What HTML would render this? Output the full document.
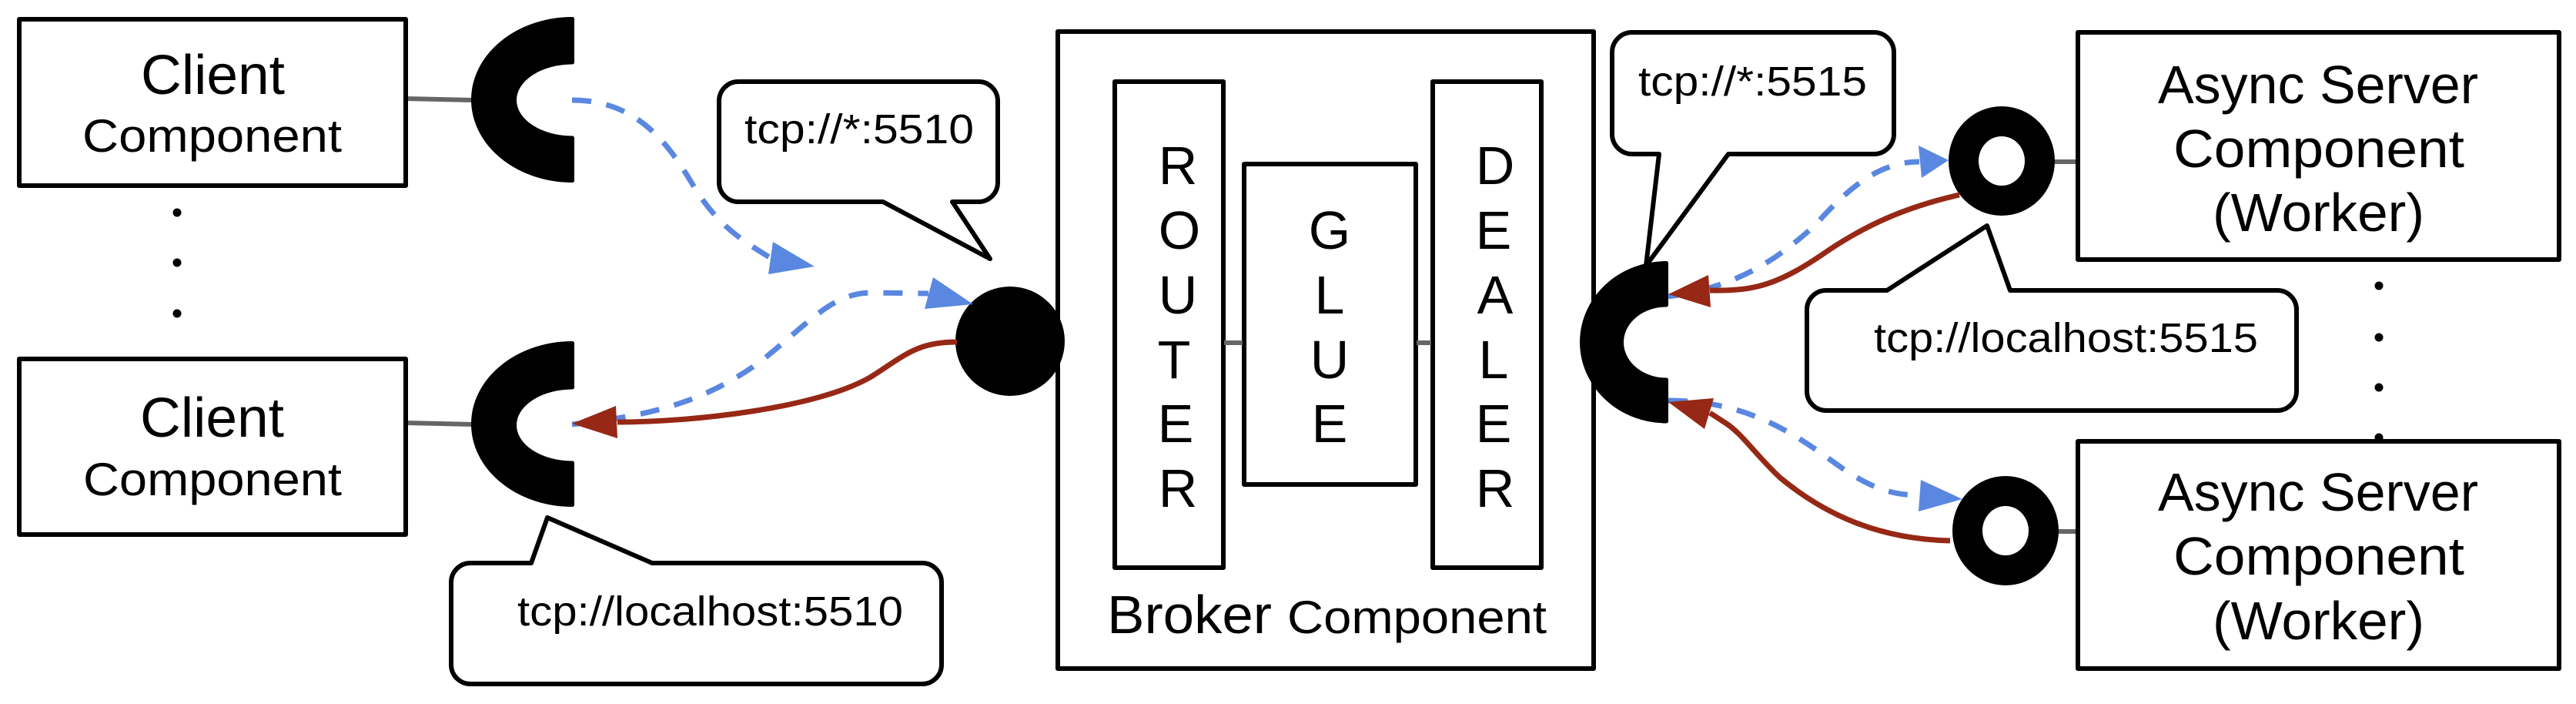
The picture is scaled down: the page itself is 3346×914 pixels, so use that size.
<!DOCTYPE html>
<html>
<head>
<meta charset="utf-8">
<style>
html,body{margin:0;padding:0;background:#fff}
svg{display:block}
text{font-family:"Liberation Sans",sans-serif;fill:#000}
.b{fill:#fff;stroke:#000;stroke-width:6;stroke-linejoin:round}
.g{stroke:#666;stroke-width:6;fill:none}
.bl{stroke:#5a87e0;stroke-width:7;fill:none;stroke-dasharray:25 20}
.r{stroke:#962815;stroke-width:7;fill:none}
.s{fill:#000;stroke:#000;stroke-width:5;stroke-linejoin:round}
.l{font-size:70px;text-anchor:middle}
</style>
</head>
<body>
<svg xmlns="http://www.w3.org/2000/svg" width="3346" height="914" viewBox="0 0 3346 914">
<rect width="3346" height="914" fill="#fff"/>

<!-- connectors -->
<path class="g" d="M527 128L615 130"/>
<path class="g" d="M527 549L615 551"/>
<path class="g" d="M1382 444L1446 442"/>
<path class="g" d="M1590 445H1614"/>
<path class="g" d="M1840 445H1859"/>
<path class="g" d="M2004 445H2055"/>
<path class="g" d="M2667 210H2697"/>
<path class="g" d="M2672 690H2697"/>

<!-- dots -->
<g fill="#000">
<circle cx="230" cy="276" r="5.5"/><circle cx="230" cy="341" r="5.5"/><circle cx="230" cy="407" r="5.5"/>
<circle cx="3090" cy="371" r="5.5"/><circle cx="3090" cy="438" r="5.5"/><circle cx="3090" cy="503" r="5.5"/><circle cx="3090" cy="568" r="5.5"/>
</g>

<!-- client boxes -->
<rect class="b" x="25" y="25" width="502" height="216"/>
<rect class="b" x="25" y="466" width="502" height="228"/>
<text x="183" y="122" font-size="72" textLength="187" lengthAdjust="spacingAndGlyphs">Client</text>
<text x="107" y="197" font-size="60" textLength="337" lengthAdjust="spacingAndGlyphs">Component</text>
<text x="182" y="567" font-size="72" textLength="187" lengthAdjust="spacingAndGlyphs">Client</text>
<text x="108" y="643" font-size="60" textLength="336" lengthAdjust="spacingAndGlyphs">Component</text>

<!-- broker -->
<rect class="b" x="1374" y="41" width="696" height="827"/>
<rect class="b" x="1448" y="106" width="141" height="631"/>
<rect class="b" x="1616" y="213" width="223" height="416"/>
<rect class="b" x="1861" y="106" width="141" height="631"/>
<path class="g" d="M1590 445H1614M1840 445H1859"/>
<g class="l">
<text class="l" x="1530" y="239">R</text><text class="l" x="1532" y="323">O</text><text class="l" x="1530" y="407">U</text><text class="l" x="1525" y="491">T</text><text class="l" x="1527" y="574">E</text><text class="l" x="1530" y="658">R</text>
<text class="l" x="1727" y="323">G</text><text class="l" x="1727" y="407">L</text><text class="l" x="1727" y="491">U</text><text class="l" x="1727" y="574">E</text>
<text class="l" x="1942" y="239">D</text><text class="l" x="1940" y="323">E</text><text class="l" x="1942" y="407">A</text><text class="l" x="1940" y="491">L</text><text class="l" x="1940" y="574">E</text><text class="l" x="1942" y="658">R</text>
</g>
<text x="1438" y="822" font-size="70" textLength="214" lengthAdjust="spacingAndGlyphs">Broker</text>
<text x="1672" y="822" font-size="60" textLength="337" lengthAdjust="spacingAndGlyphs">Component</text>

<!-- worker boxes -->
<rect class="b" x="2699" y="42" width="625" height="295"/>
<rect class="b" x="2699" y="573" width="625" height="295"/>
<text x="2803" y="134" font-size="70" textLength="416" lengthAdjust="spacingAndGlyphs">Async Server</text>
<text x="2823" y="217" font-size="70" textLength="378" lengthAdjust="spacingAndGlyphs">Component</text>
<text x="2874" y="300" font-size="70" textLength="275" lengthAdjust="spacingAndGlyphs">(Worker)</text>
<text x="2803" y="663" font-size="70" textLength="416" lengthAdjust="spacingAndGlyphs">Async Server</text>
<text x="2823" y="746" font-size="70" textLength="378" lengthAdjust="spacingAndGlyphs">Component</text>
<text x="2874" y="830" font-size="70" textLength="275" lengthAdjust="spacingAndGlyphs">(Worker)</text>

<!-- callouts -->
<path class="b" d="M959 106H1271A25 25 0 0 1 1296 131V237A25 25 0 0 1 1271 262H1237L1286 336L1147 262H959A25 25 0 0 1 934 237V131A25 25 0 0 1 959 106Z"/>
<text x="967" y="186" font-size="54" textLength="298" lengthAdjust="spacingAndGlyphs">tcp://*:5510</text>

<path class="b" d="M2120 42H2434A26 26 0 0 1 2460 68V174A26 26 0 0 1 2434 200H2245L2138 345L2155 200H2120A26 26 0 0 1 2094 174V68A26 26 0 0 1 2120 42Z"/>
<text x="2128" y="124" font-size="54" textLength="297" lengthAdjust="spacingAndGlyphs">tcp://*:5515</text>

<path class="b" d="M2372 377H2451L2581 293L2611 377H2958A25 25 0 0 1 2983 402V508A25 25 0 0 1 2958 533H2372A25 25 0 0 1 2347 508V402A25 25 0 0 1 2372 377Z"/>
<text x="2434" y="457" font-size="54" textLength="499" lengthAdjust="spacingAndGlyphs">tcp://localhost:5515</text>

<path class="b" d="M611 731H690L711 672L847 731H1198A25 25 0 0 1 1223 756V863A25 25 0 0 1 1198 888H611A25 25 0 0 1 586 863V756A25 25 0 0 1 611 731Z"/>
<text x="672" y="812" font-size="54" textLength="501" lengthAdjust="spacingAndGlyphs">tcp://localhost:5510</text>

<!-- sockets -->
<path class="s" d="M743.500 24.500A129 105 0 0 0 743.500 234.500V179A75 49 0 0 1 743.500 81Z"/>
<path class="s" d="M743.500 445.500A129 105 0 0 0 743.500 655.500V601A75 49 0 0 1 743.500 503Z"/>
<path class="s" d="M2164.500 341.500A110 102.750 0 0 0 2164.500 547V493A58 48.500 0 0 1 2164.500 396Z"/>

<circle cx="1312" cy="443" r="71" fill="#000"/>
<path fill="#000" fill-rule="evenodd" d="M2531 209a69 71 0 1 0 138 0a69 71 0 1 0 -138 0ZM2570 209a30 32 0 1 0 60 0a30 32 0 1 0 -60 0Z"/>
<path fill="#000" fill-rule="evenodd" d="M2536 689a69 71 0 1 0 138 0a69 71 0 1 0 -138 0ZM2575 689a30 32 0 1 0 60 0a30 32 0 1 0 -60 0Z"/>

<!-- blue dashed -->
<path class="bl" d="M743 130C830 130 870 190 900 240S960 310 1001 335"/>
<polygon fill="#5a87e0" points="1004,314 1058,346 998,356"/>
<path class="bl" d="M743 551C840 540 910 525 987 470C1050 420 1080 381 1130 380L1206 381"/>
<polygon fill="#5a87e0" points="1212,360 1264,395 1201,401"/>
<path class="bl" d="M2167 385C2260 372 2310 335 2357 293C2400 245 2440 210 2493 210"/>
<polygon fill="#5a87e0" points="2492,189 2531,208 2496,231"/>
<path class="bl" d="M2167 520C2260 520 2320 555 2379 598C2420 628 2450 643 2493 643"/>
<polygon fill="#5a87e0" points="2495,623 2549,648 2492,664"/>

<!-- red -->
<path class="r" d="M1243 444C1190 444 1175 462 1130 490C1060 530 900 548 802 548"/>
<polygon fill="#962815" points="743,550 800,527 802,569"/>
<path class="r" d="M2545 253C2470 270 2420 295 2375 325C2310 370 2280 378 2221 377"/>
<polygon fill="#962815" points="2167,382 2219,357 2222,399"/>
<path class="r" d="M2533 702C2440 700 2370 668 2312 620C2280 590 2262 562 2241 549L2221 536"/>
<polygon fill="#962815" points="2167,522 2226,517 2214,557"/>
</svg>
</body>
</html>
